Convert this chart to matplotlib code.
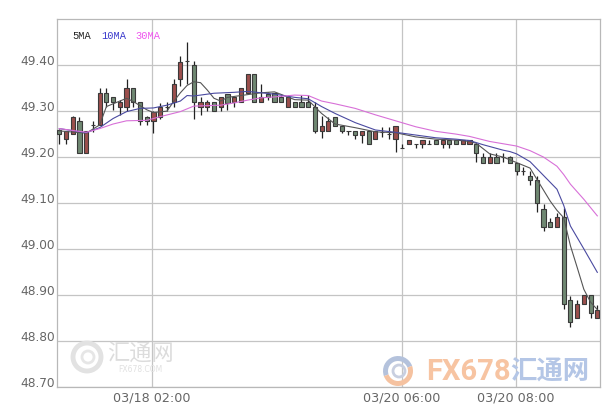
import matplotlib
matplotlib.use("Agg")
import matplotlib.pyplot as plt
from matplotlib.patches import Circle, Wedge
import numpy as np

# candle data (O, H, L, C)
opens = [49.259, 49.239, 49.250, 49.279, 49.208, 49.270, 49.270, 49.339, 49.330, 49.308,
         49.308, 49.350, 49.319, 49.288, 49.279, 49.288, 49.310, 49.319, 49.370, 49.410,
         49.400, 49.308, 49.308, 49.319, 49.310, 49.337, 49.319, 49.320, 49.339, 49.380,
         49.320, 49.337, 49.339, 49.330, 49.310, 49.320, 49.319, 49.319, 49.308, 49.257,
         49.257, 49.288, 49.268, 49.257, 49.257, 49.248, 49.257, 49.239, 49.254, 49.250,
         49.239, 49.220, 49.228, 49.228, 49.228, 49.228, 49.237, 49.228, 49.237, 49.237,
         49.228, 49.228, 49.228, 49.200, 49.188, 49.200, 49.200, 49.200, 49.188, 49.170,
         49.158, 49.149, 49.088, 49.059, 49.048, 49.069, 48.888, 48.849, 48.879, 48.899,
         48.849]
highs = [49.262, 49.257, 49.290, 49.288, 49.257, 49.279, 49.350, 49.350, 49.330, 49.325,
         49.370, 49.350, 49.319, 49.290, 49.300, 49.318, 49.319, 49.370, 49.420, 49.450,
         49.410, 49.330, 49.325, 49.319, 49.330, 49.337, 49.330, 49.350, 49.380, 49.380,
         49.359, 49.342, 49.339, 49.335, 49.335, 49.320, 49.335, 49.335, 49.319, 49.290,
         49.288, 49.288, 49.268, 49.257, 49.257, 49.257, 49.257, 49.257, 49.266, 49.266,
         49.268, 49.228, 49.237, 49.228, 49.237, 49.237, 49.237, 49.237, 49.237, 49.237,
         49.237, 49.237, 49.228, 49.208, 49.208, 49.208, 49.208, 49.203, 49.188, 49.179,
         49.170, 49.158, 49.098, 49.067, 49.078, 49.089, 48.897, 48.888, 48.899, 48.899,
         48.878]
lows = [49.228, 49.228, 49.250, 49.208, 49.208, 49.255, 49.270, 49.310, 49.303, 49.292,
        49.300, 49.310, 49.270, 49.270, 49.252, 49.283, 49.300, 49.310, 49.354, 49.360,
        49.282, 49.292, 49.300, 49.300, 49.300, 49.303, 49.310, 49.320, 49.339, 49.320,
        49.320, 49.325, 49.320, 49.320, 49.310, 49.308, 49.308, 49.308, 49.252, 49.241,
        49.257, 49.268, 49.252, 49.248, 49.240, 49.230, 49.228, 49.239, 49.243, 49.240,
        49.210, 49.220, 49.228, 49.220, 49.220, 49.228, 49.228, 49.220, 49.220, 49.228,
        49.228, 49.228, 49.190, 49.188, 49.188, 49.188, 49.190, 49.188, 49.160, 49.160,
        49.139, 49.080, 49.040, 49.048, 49.048, 48.870, 48.830, 48.849, 48.879, 48.850,
        48.849]
closes = [49.250, 49.257, 49.288, 49.208, 49.257, 49.270, 49.339, 49.319, 49.319, 49.319,
          49.350, 49.320, 49.279, 49.279, 49.299, 49.308, 49.310, 49.359, 49.408, 49.410,
          49.320, 49.319, 49.319, 49.300, 49.330, 49.317, 49.330, 49.350, 49.380, 49.320,
          49.330, 49.330, 49.320, 49.320, 49.330, 49.308, 49.308, 49.308, 49.257, 49.268,
          49.279, 49.268, 49.257, 49.257, 49.248, 49.257, 49.228, 49.257, 49.254, 49.250,
          49.268, 49.220, 49.237, 49.228, 49.237, 49.228, 49.228, 49.237, 49.228, 49.228,
          49.237, 49.237, 49.208, 49.188, 49.200, 49.188, 49.200, 49.188, 49.170, 49.170,
          49.150, 49.099, 49.048, 49.048, 49.069, 48.879, 48.841, 48.879, 48.899, 48.860,
          48.868]

# moving averages, read at selected candles
ma5_idx = [0, 4, 6, 7, 10, 11, 13, 14, 16, 17, 18, 19, 20, 21, 22, 23, 24, 25, 28, 30,
           32, 35, 37, 39, 41, 44, 47, 50, 53, 56, 59, 61, 62, 64, 66, 68, 70, 71, 72, 73,
           74, 75, 76, 77, 78, 79, 80]
ma5_val = [49.257, 49.252, 49.270, 49.310, 49.328, 49.321, 49.303, 49.297, 49.300, 49.321,
           49.340, 49.356, 49.364, 49.362, 49.346, 49.328, 49.322, 49.330, 49.336, 49.340,
           49.342, 49.325, 49.324, 49.295, 49.272, 49.264, 49.255, 49.253, 49.244, 49.239,
           49.237, 49.234, 49.230, 49.207, 49.200, 49.188, 49.176, 49.152, 49.128, 49.104,
           49.084, 49.068, 49.007, 48.960, 48.912, 48.884, 48.868]
ma10_idx = [0, 4, 6, 8, 10, 12, 14, 16, 18, 19, 20, 23, 26, 28, 30, 32, 35, 37, 39, 41,
            44, 47, 50, 53, 56, 59, 61, 63, 64, 66, 67, 68, 70, 72, 74, 75, 76, 78, 80]
ma10_val = [49.262, 49.253, 49.264, 49.284, 49.299, 49.306, 49.307, 49.313, 49.322, 49.334,
            49.333, 49.339, 49.341, 49.343, 49.340, 49.337, 49.330, 49.327, 49.310, 49.295,
            49.275, 49.259, 49.254, 49.248, 49.242, 49.239, 49.236, 49.227, 49.223, 49.215,
            49.212, 49.207, 49.190, 49.160, 49.130, 49.095, 49.050, 49.000, 48.949]
ma30_idx = [0, 4, 6, 8, 10, 13, 15, 18, 20, 24, 26, 28, 30, 32, 35, 37, 39, 41, 44, 47,
            50, 53, 56, 59, 61, 64, 66, 68, 70, 72, 74, 75, 76, 78, 80]
ma30_val = [49.262, 49.254, 49.262, 49.272, 49.279, 49.280, 49.288, 49.299, 49.311, 49.313,
            49.318, 49.324, 49.329, 49.331, 49.335, 49.334, 49.322, 49.316, 49.306, 49.292,
            49.279, 49.266, 49.256, 49.250, 49.245, 49.234, 49.229, 49.224, 49.214, 49.200,
            49.180, 49.162, 49.141, 49.108, 49.072]

yticks = [48.70, 48.80, 48.90, 49.00, 49.10, 49.20, 49.30, 49.40]
xtick_pos = [13.78, 50.9, 67.9]
xtick_labels = ["03/18 02:00", "03/20 06:00", "03/20 08:00"]

W, H = 608, 408
RED = "#9c4f4c"
GREEN = "#6f8872"
EDGE = "#3a3a3a"
GRID = "#c4c4c4"


def fx(x):
    return x / W


def fy(y):
    return 1 - y / H


fig = plt.figure(figsize=(W / 100, H / 100), dpi=100)
ax = fig.add_axes([fx(56.7), fy(386.7), fx(600) - fx(56.7), fy(19.3) - fy(386.7)])

o = np.array(opens)
h = np.array(highs)
lo = np.array(lows)
c = np.array(closes)
x = np.arange(len(o))
up = c >= o
cols = np.where(c > o, RED, GREEN)

ax.vlines(x, lo, h, color="#222222", lw=0.9, zorder=3)
ax.bar(x, np.abs(c - o), bottom=np.minimum(o, c), width=0.62, color=cols,
       edgecolor=EDGE, linewidth=0.8, zorder=4)

ax.plot(ma5_idx, ma5_val, color="#555555", lw=0.8, zorder=5)
ax.plot(ma10_idx, ma10_val, color="#4a4aa0", lw=0.8, zorder=5)
ax.plot(ma30_idx, ma30_val, color="#d870d8", lw=0.8, zorder=5)

ax.set_xlim(-0.39, 80.4)
ax.set_ylim(48.70, 49.50)
ax.set_yticks(yticks)
ax.set_yticklabels([f"{v:.2f}" for v in yticks])
ax.set_xticks(xtick_pos)
ax.set_xticklabels(xtick_labels)
ax.grid(True, color=GRID, lw=0.9, zorder=0)
ax.tick_params(length=0, colors="#666666")
ax.tick_params(axis="y", labelsize=8.7, pad=1.5)
ax.tick_params(axis="x", labelsize=9.2, pad=3.5)
for lab in ax.get_yticklabels():
    lab.set_va("baseline")
for s in ax.spines.values():
    s.set_color("#b8b8b8")
    s.set_linewidth(0.9)

# legend texts
fig.text(fx(72), fy(36), "5MA", color="#222222", family="Liberation Mono", fontsize=7.5, va="center")
fig.text(fx(101), fy(36), "10MA", color="#3a3acc", family="Liberation Mono", fontsize=7.5, va="center")
fig.text(fx(135), fy(36), "30MA", color="#ee55ee", family="Liberation Mono", fontsize=7.5, va="center")

# watermarks
cjk = ["Noto Sans CJK SC", "DejaVu Sans"]
fig.add_artist(Circle((87 / 100, (H - 357) / 100), 0.14, transform=fig.dpi_scale_trans,
                      fill=False, ec="#e2e2e2", lw=3.5))
fig.add_artist(Circle((88 / 100, (H - 357) / 100), 0.06, transform=fig.dpi_scale_trans,
                      fill=False, ec="#e6e6e6", lw=2))
fig.text(fx(107), fy(353), "汇通网", family=cjk, fontsize=16, color="#dcdcdc",
         va="center", ha="left")
fig.text(fx(140), fy(370), "FX678.COM", fontsize=5.5, color="#e0e0e0", va="center",
         ha="center")

fig.add_artist(Wedge((398 / 100, (H - 371) / 100), 0.15, 20, 200, width=0.05,
                     transform=fig.dpi_scale_trans, fc="#b4c2dc", ec="none"))
fig.add_artist(Wedge((398 / 100, (H - 371) / 100), 0.15, 200, 380, width=0.05,
                     transform=fig.dpi_scale_trans, fc="#f5c2a0", ec="none"))
fig.add_artist(Circle((399 / 100, (H - 371) / 100), 0.06, transform=fig.dpi_scale_trans,
                      fill=False, ec="#c8cfe0", lw=2))
fig.text(fx(426), fy(372), "FX678", family="Roboto", fontweight="bold", fontsize=21,
         color="#f7c4a2", va="center", ha="left")
fig.text(fx(510), fy(372), "汇通网", family=cjk, fontweight="bold", fontsize=19,
         color="#b4c6e6", va="center", ha="left")

fig.savefig("out.png", dpi=100)
